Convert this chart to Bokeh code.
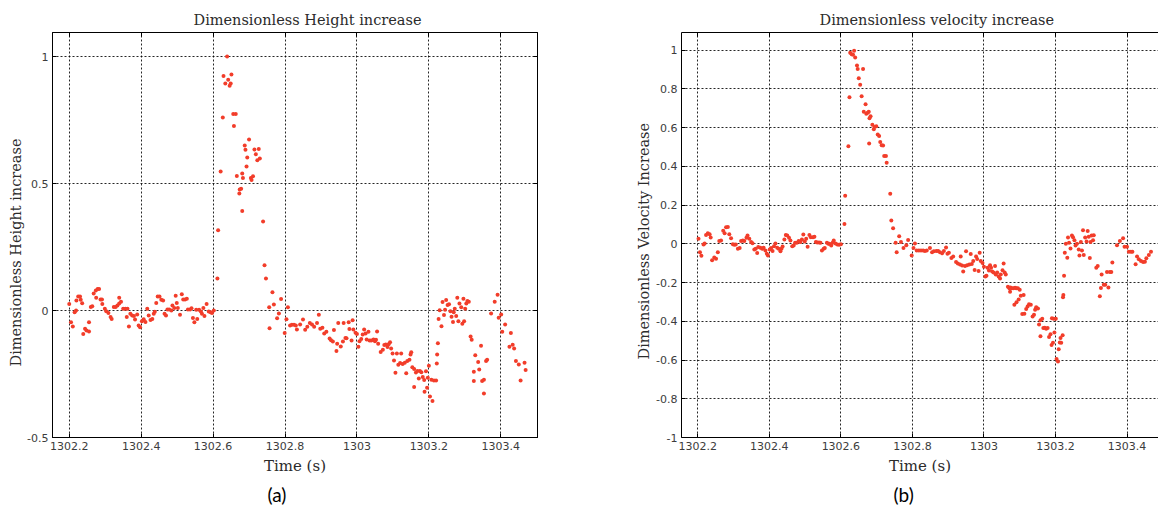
from bokeh.plotting import figure
from bokeh.layouts import row
from bokeh.models import FixedTicker, LinearAxis, Range1d, Title
from bokeh.embed import file_html
from bokeh.resources import INLINE

# ---------------- data : panel (a) dimensionless height ----------------
height_time_pre = [
    1302.200, 1302.205, 1302.210, 1302.215, 1302.219, 1302.220, 1302.225, 1302.230, 1302.232, 1302.236,
    1302.239, 1302.244, 1302.248, 1302.255, 1302.255, 1302.260, 1302.264, 1302.268, 1302.274, 1302.279,
    1302.283, 1302.275, 1302.287, 1302.291, 1302.292, 1302.299, 1302.303, 1302.309, 1302.315, 1302.318,
    1302.324, 1302.329, 1302.334, 1302.339, 1302.339, 1302.344, 1302.350, 1302.356, 1302.362, 1302.360,
    1302.366, 1302.370, 1302.375, 1302.380, 1302.383, 1302.389, 1302.393, 1302.397, 1302.402, 1302.407,
    1302.412, 1302.417, 1302.421, 1302.426, 1302.431, 1302.435, 1302.438, 1302.442, 1302.446, 1302.451,
    1302.456, 1302.461, 1302.465, 1302.469, 1302.473, 1302.478, 1302.484, 1302.487, 1302.492, 1302.496,
    1302.499, 1302.502, 1302.508, 1302.513, 1302.517, 1302.522, 1302.527, 1302.530, 1302.536, 1302.540,
    1302.544, 1302.548, 1302.553, 1302.556, 1302.561, 1302.566, 1302.569, 1302.573, 1302.576, 1302.582,
    1302.588, 1302.593, 1302.597, 1302.602, 1302.612,
]
height_value_pre = [
    0.026, -0.046, -0.063, -0.007, 0.000, 0.039, 0.055, 0.055, 0.042, 0.029,
    -0.093, -0.072, -0.079, -0.083, -0.046, 0.014, 0.017, 0.067, 0.079, 0.085,
    0.085, 0.050, 0.043, 0.043, 0.026, 0.007, -0.003, -0.010, -0.026, -0.033,
    0.014, 0.014, 0.020, 0.028, 0.050, 0.034, 0.007, 0.007, 0.007, -0.026,
    -0.063, -0.013, -0.020, -0.022, -0.035, -0.016, -0.059, -0.066, -0.042, -0.034,
    -0.045, 0.007, -0.020, -0.037, -0.033, -0.013, -0.005, 0.030, 0.055, 0.055,
    0.042, 0.039, -0.013, -0.020, 0.004, 0.004, 0.000, 0.020, 0.010, 0.058,
    0.030, 0.010, -0.017, 0.064, 0.043, 0.043, 0.046, 0.004, 0.004, 0.009,
    -0.030, -0.046, 0.003, -0.033, 0.003, -0.004, -0.013, 0.010, -0.022, 0.026,
    -0.004, -0.007, -0.010, 0.000, 0.126,
]
height_time_peak = [
    1302.614, 1302.639, 1302.629, 1302.651, 1302.642, 1302.634, 1302.649, 1302.646, 1302.627, 1302.656,
    1302.663, 1302.658, 1302.621, 1302.700, 1302.688, 1302.690, 1302.715, 1302.727, 1302.719, 1302.695,
    1302.723, 1302.730, 1302.693, 1302.666, 1302.681, 1302.683, 1302.705, 1302.711, 1302.707, 1302.674,
    1302.678, 1302.673, 1302.681, 1302.739,
]
height_value_peak = [
    0.316, 1.000, 0.923, 0.929, 0.908, 0.894, 0.894, 0.885, 0.760, 0.774,
    0.774, 0.726, 0.547, 0.673, 0.650, 0.633, 0.634, 0.636, 0.615, 0.602,
    0.592, 0.598, 0.567, 0.530, 0.539, 0.522, 0.522, 0.529, 0.514, 0.476,
    0.479, 0.461, 0.392, 0.350,
]
height_time_post = [
    1302.743, 1302.747, 1302.765, 1302.756, 1302.769, 1302.757, 1302.778, 1302.783, 1302.789, 1302.799,
    1302.804, 1302.808, 1302.814, 1302.819, 1302.825, 1302.830, 1302.833, 1302.842, 1302.850, 1302.856,
    1302.862, 1302.869, 1302.875, 1302.881, 1302.889, 1302.894, 1302.898, 1302.904, 1302.909, 1302.915,
    1302.924, 1302.928, 1302.933, 1302.936, 1302.945, 1302.943, 1302.948, 1302.955, 1302.961, 1302.963,
    1302.968, 1302.971, 1302.977, 1302.979, 1302.985, 1302.988, 1302.990, 1302.996, 1303.000, 1303.004,
    1303.007, 1303.012, 1303.016, 1303.020, 1303.024, 1303.027, 1303.032, 1303.035, 1303.040, 1303.046,
    1303.050, 1303.053, 1303.056, 1303.059, 1303.066, 1303.072, 1303.076, 1303.080, 1303.085, 1303.088,
    1303.092, 1303.095, 1303.099, 1303.103, 1303.107, 1303.111, 1303.115, 1303.120, 1303.123, 1303.127,
    1303.133, 1303.137, 1303.140, 1303.146, 1303.149, 1303.151, 1303.154, 1303.159, 1303.159, 1303.164,
    1303.168, 1303.172, 1303.175, 1303.179, 1303.183, 1303.187, 1303.188, 1303.192, 1303.195, 1303.197,
    1303.200, 1303.203, 1303.207, 1303.210, 1303.214, 1303.220, 1303.222, 1303.223, 1303.225, 1303.227,
    1303.230, 1303.235, 1303.238, 1303.242, 1303.245, 1303.248, 1303.252, 1303.256, 1303.260, 1303.263,
    1303.267, 1303.269, 1303.272, 1303.276, 1303.279, 1303.282, 1303.285, 1303.290, 1303.293, 1303.296,
    1303.298, 1303.301, 1303.304, 1303.307, 1303.311, 1303.316, 1303.319, 1303.325, 1303.329, 1303.325,
    1303.337, 1303.340, 1303.345, 1303.348, 1303.353, 1303.353, 1303.359, 1303.362, 1303.373, 1303.383,
    1303.391, 1303.394, 1303.401, 1303.404, 1303.412, 1303.424, 1303.428, 1303.433, 1303.437, 1303.442,
    1303.450, 1303.455, 1303.466, 1303.469,
]
height_value_post = [
    0.178, 0.126, 0.072, 0.013, 0.024, -0.070, -0.031, -0.012, 0.045, -0.089,
    -0.034, 0.013, -0.059, -0.056, -0.056, -0.059, -0.075, -0.055, -0.035, -0.076,
    -0.064, -0.049, -0.055, -0.064, -0.049, -0.017, -0.072, -0.068, -0.091, -0.084,
    -0.110, -0.117, -0.122, -0.077, -0.131, -0.159, -0.049, -0.142, -0.122, -0.049,
    -0.108, -0.109, -0.046, -0.073, -0.118, -0.038, -0.075, -0.088, -0.093, -0.143,
    -0.121, -0.112, -0.094, -0.075, -0.091, -0.114, -0.084, -0.118, -0.118, -0.114,
    -0.121, -0.115, -0.083, -0.131, -0.163, -0.155, -0.136, -0.134, -0.144, -0.133,
    -0.125, -0.150, -0.169, -0.197, -0.245, -0.169, -0.214, -0.207, -0.169, -0.211,
    -0.206, -0.247, -0.199, -0.194, -0.173, -0.164, -0.223, -0.230, -0.301, -0.244,
    -0.238, -0.268, -0.238, -0.243, -0.262, -0.274, -0.320, -0.239, -0.304, -0.265,
    -0.218, -0.339, -0.273, -0.356, -0.276, -0.276, -0.209, -0.173, -0.129, -0.033,
    0.001, -0.062, 0.033, -0.018, 0.003, 0.041, 0.022, 0.025, -0.003, -0.025,
    -0.045, -0.007, 0.007, -0.022, 0.050, -0.042, 0.028, 0.013, -0.052, 0.046,
    -0.042, 0.007, 0.028, 0.037, 0.034, -0.102, -0.115, -0.241, -0.176, -0.278,
    -0.203, -0.232, -0.139, -0.278, -0.327, -0.273, -0.199, -0.194, -0.012, 0.034,
    0.062, -0.029, -0.016, -0.084, -0.055, -0.143, -0.089, -0.135, -0.150, -0.199,
    -0.213, -0.276, -0.206, -0.234,
]

# ---------------- data : panel (b) dimensionless velocity ----------------
velocity_time_pre = [
    1302.202, 1302.206, 1302.210, 1302.216, 1302.219, 1302.223, 1302.228, 1302.233, 1302.236, 1302.240,
    1302.246, 1302.251, 1302.256, 1302.260, 1302.265, 1302.271, 1302.275, 1302.279, 1302.284, 1302.288,
    1302.293, 1302.298, 1302.302, 1302.306, 1302.312, 1302.317, 1302.321, 1302.326, 1302.330, 1302.336,
    1302.339, 1302.344, 1302.349, 1302.353, 1302.358, 1302.362, 1302.366, 1302.369, 1302.375, 1302.380,
    1302.384, 1302.389, 1302.393, 1302.396, 1302.401, 1302.405, 1302.409, 1302.413, 1302.417, 1302.422,
    1302.426, 1302.431, 1302.434, 1302.437, 1302.442, 1302.446, 1302.450, 1302.455, 1302.459, 1302.464,
    1302.468, 1302.472, 1302.477, 1302.482, 1302.487, 1302.491, 1302.495, 1302.499, 1302.503, 1302.507,
    1302.512, 1302.516, 1302.522, 1302.526, 1302.530, 1302.534, 1302.539, 1302.543, 1302.547, 1302.552,
    1302.555, 1302.561, 1302.565, 1302.568, 1302.573, 1302.577, 1302.580, 1302.585, 1302.590, 1302.595,
    1302.600, 1302.610,
]
velocity_value_pre = [
    0.026, -0.043, -0.061, -0.003, 0.002, 0.046, 0.054, 0.049, 0.032, -0.085,
    -0.071, -0.077, -0.043, 0.014, 0.017, 0.068, 0.054, 0.085, 0.087, 0.049,
    0.029, -0.002, -0.005, -0.003, -0.026, -0.022, 0.014, 0.017, 0.015, 0.031,
    0.043, 0.026, 0.009, 0.003, -0.029, -0.026, -0.048, -0.017, -0.020, -0.026,
    -0.020, -0.034, -0.051, -0.060, -0.029, -0.022, -0.037, -0.012, 0.002, -0.020,
    -0.026, -0.039, -0.026, -0.014, 0.022, 0.046, 0.043, 0.031, 0.017, -0.012,
    -0.009, 0.005, 0.005, 0.015, 0.009, 0.022, 0.048, 0.012, 0.026, -0.015,
    0.046, 0.034, 0.034, 0.037, 0.009, 0.007, 0.007, 0.005, -0.034, -0.026,
    -0.022, 0.005, 0.000, 0.000, -0.009, 0.005, 0.017, 0.002, -0.003, -0.005,
    -0.002, 0.102,
]
velocity_time_peak = [
    1302.612, 1302.621, 1302.624, 1302.626, 1302.630, 1302.634, 1302.637, 1302.640, 1302.645, 1302.647,
    1302.650, 1302.654, 1302.662, 1302.658, 1302.669, 1302.664, 1302.671, 1302.675, 1302.678, 1302.680,
    1302.683, 1302.688, 1302.692, 1302.694, 1302.679, 1302.699, 1302.703, 1302.707, 1302.710, 1302.714,
    1302.718, 1302.721, 1302.726, 1302.728, 1302.738, 1302.741, 1302.746,
]
velocity_value_peak = [
    0.248, 0.504, 0.757, 0.986, 0.979, 0.976, 0.997, 0.962, 0.920, 0.903,
    0.855, 0.821, 0.903, 0.762, 0.721, 0.682, 0.672, 0.677, 0.682, 0.648,
    0.658, 0.615, 0.591, 0.603, 0.518, 0.607, 0.564, 0.556, 0.526, 0.509,
    0.508, 0.453, 0.453, 0.419, 0.258, 0.120, 0.080,
]
velocity_time_post = [
    1302.753, 1302.756, 1302.763, 1302.768, 1302.775, 1302.783, 1302.788, 1302.798, 1302.803, 1302.807,
    1302.812, 1302.818, 1302.824, 1302.830, 1302.835, 1302.840, 1302.849, 1302.855, 1302.860, 1302.867,
    1302.872, 1302.877, 1302.883, 1302.888, 1302.894, 1302.898, 1302.902, 1302.909, 1302.914, 1302.922,
    1302.927, 1302.933, 1302.935, 1302.939, 1302.942, 1302.947, 1302.950, 1302.953, 1302.959, 1302.963,
    1302.966, 1302.970, 1302.974, 1302.978, 1302.981, 1302.985, 1302.988, 1302.991, 1302.996, 1303.000,
    1303.004, 1303.007, 1303.010, 1303.014, 1303.017, 1303.020, 1303.023, 1303.027, 1303.031, 1303.033,
    1303.037, 1303.041, 1303.045, 1303.047, 1303.052, 1303.055, 1303.058, 1303.061, 1303.067, 1303.071,
    1303.074, 1303.078, 1303.082, 1303.087, 1303.090, 1303.095, 1303.100, 1303.073, 1303.085, 1303.091,
    1303.097, 1303.103, 1303.111, 1303.107, 1303.113, 1303.118, 1303.122, 1303.126, 1303.131, 1303.136,
    1303.140, 1303.143, 1303.146, 1303.151, 1303.154, 1303.158, 1303.163, 1303.166, 1303.170, 1303.174,
    1303.158, 1303.178, 1303.182, 1303.186, 1303.189, 1303.193, 1303.190, 1303.195, 1303.201, 1303.197,
    1303.203, 1303.207, 1303.209, 1303.212, 1303.216, 1303.220, 1303.214, 1303.222, 1303.221, 1303.224,
    1303.226, 1303.229, 1303.233, 1303.235, 1303.238, 1303.242, 1303.246, 1303.249, 1303.253, 1303.256,
    1303.260, 1303.265, 1303.267, 1303.271, 1303.274, 1303.277, 1303.279, 1303.283, 1303.287, 1303.290,
    1303.293, 1303.296, 1303.298, 1303.301, 1303.305, 1303.307, 1303.314, 1303.318, 1303.324, 1303.327,
    1303.329, 1303.335, 1303.339, 1303.344, 1303.348, 1303.352, 1303.356, 1303.359, 1303.372, 1303.380,
    1303.389, 1303.393, 1303.400, 1303.405, 1303.411, 1303.415, 1303.424, 1303.428, 1303.433, 1303.439,
    1303.445, 1303.450, 1303.454, 1303.461, 1303.467,
]
velocity_value_post = [
    0.005, -0.043, 0.039, 0.010, -0.022, -0.007, 0.020, -0.060, -0.022, 0.002,
    -0.034, -0.034, -0.034, -0.034, -0.037, -0.034, -0.022, -0.043, -0.039, -0.037,
    -0.037, -0.043, -0.049, -0.037, -0.019, -0.051, -0.046, -0.073, -0.065, -0.094,
    -0.101, -0.107, -0.066, -0.112, -0.143, -0.114, -0.039, -0.111, -0.107, -0.053,
    -0.104, -0.089, -0.135, -0.066, -0.078, -0.141, -0.046, -0.089, -0.099, -0.118,
    -0.169, -0.165, -0.123, -0.138, -0.111, -0.124, -0.143, -0.148, -0.114, -0.159,
    -0.148, -0.169, -0.179, -0.159, -0.136, -0.102, -0.148, -0.159, -0.222, -0.230,
    -0.225, -0.230, -0.230, -0.227, -0.230, -0.230, -0.237, -0.247, -0.314, -0.302,
    -0.288, -0.268, -0.264, -0.363, -0.361, -0.336, -0.324, -0.312, -0.315, -0.375,
    -0.366, -0.341, -0.327, -0.334, -0.416, -0.395, -0.387, -0.435, -0.433, -0.438,
    -0.477, -0.435, -0.481, -0.467, -0.523, -0.511, -0.384, -0.387, -0.387, -0.458,
    -0.595, -0.608, -0.545, -0.510, -0.511, -0.472, -0.486, -0.264, -0.276, -0.165,
    -0.046, 0.000, -0.072, 0.032, 0.005, -0.024, 0.043, 0.034, 0.019, -0.009,
    0.000, -0.029, -0.060, 0.010, -0.034, 0.070, -0.058, 0.032, 0.012, 0.066,
    0.037, -0.073, 0.010, 0.043, 0.019, 0.044, -0.123, -0.114, -0.271, -0.228,
    -0.159, -0.211, -0.211, -0.145, -0.225, -0.145, -0.145, -0.097, -0.007, 0.014,
    0.029, -0.015, -0.015, -0.041, -0.041, -0.041, -0.106, -0.065, -0.080, -0.089,
    -0.094, -0.092, -0.075, -0.058, -0.041,
]

# ---------------- ticks and texts ----------------
time_ticks = [1302.2, 1302.4, 1302.6, 1302.8, 1303.0, 1303.2, 1303.4]
time_tick_labels = ["1302.2", "1302.4", "1302.6", "1302.8", "1303", "1303.2", "1303.4"]
height_ticks = [-0.5, 0.0, 0.5, 1.0]
height_tick_labels = ["-0.5", "0", "0.5", "1"]
velocity_ticks = [-1.0, -0.8, -0.6, -0.4, -0.2, 0.0, 0.2, 0.4, 0.6, 0.8, 1.0]
velocity_tick_labels = ["-1", "-0.8", "-0.6", "-0.4", "-0.2", "0", "0.2", "0.4", "0.6", "0.8", "1"]

title_a = "Dimensionless Height increase"
ylabel_a = "Dimensionless Height increase"
title_b = "Dimensionless velocity increase"
ylabel_b = "Dimensionless Velocity Increase"
xlabel = "Time (s)"
caption_a = "(a)"
caption_b = "(b)"

DOT = "#f23d2a"
TXT = "#2b2b2b"
TICK_TXT = "#3c3c3c"
SERIF = "DejaVu Serif"
SERIF_SIZE = "14.5px"


def style_axis(ax, ticks, labels, show):
    ax.ticker = FixedTicker(ticks=ticks)
    if show:
        ax.major_label_overrides = {t: l for t, l in zip(ticks, labels)}
        ax.major_label_standoff = 4
        ax.major_label_text_font_size = "11px"
    else:
        ax.major_label_overrides = {t: "" for t in ticks}
        ax.major_label_standoff = 0
        ax.major_label_text_font_size = "1px"
    ax.major_tick_in = 4
    ax.major_tick_out = 0
    ax.minor_tick_line_color = None
    ax.axis_line_color = "black"
    ax.axis_line_width = 1
    ax.major_tick_line_color = "black"
    ax.major_label_text_font = "DejaVu Sans"
    ax.major_label_text_color = TICK_TXT


def make_panel(width, height, xr, yr, borders, yticks, ylabels, right_axis, outline,
               title, title_offset, ylab, ylab_offset, ylab_standoff, caption, caption_offset):
    p = figure(width=width, height=height, output_backend="svg", toolbar_location=None,
               x_range=Range1d(*xr), y_range=Range1d(*yr),
               min_border_left=borders[0], min_border_right=borders[1],
               min_border_top=borders[2], min_border_bottom=borders[3],
               background_fill_color="white", border_fill_color="white")
    style_axis(p.xaxis[0], time_ticks, time_tick_labels, True)
    style_axis(p.yaxis[0], yticks, ylabels, True)
    p.xaxis[0].axis_label = xlabel
    p.xaxis[0].axis_label_text_font = SERIF
    p.xaxis[0].axis_label_text_font_size = "15px"
    p.xaxis[0].axis_label_text_font_style = "normal"
    p.xaxis[0].axis_label_text_color = TXT
    p.xaxis[0].axis_label_standoff = 4
    top = LinearAxis()
    style_axis(top, time_ticks, time_tick_labels, False)
    p.add_layout(top, "above")
    if right_axis:
        rt = LinearAxis()
        style_axis(rt, yticks, ylabels, False)
        p.add_layout(rt, "right")
    for g in (p.xgrid[0], p.ygrid[0]):
        g.grid_line_color = "black"
        g.grid_line_dash = "2 2"
        g.grid_line_width = 1
        g.grid_line_alpha = 0.85
    p.xgrid[0].ticker = FixedTicker(ticks=time_ticks)
    p.ygrid[0].ticker = FixedTicker(ticks=yticks)
    p.outline_line_color = "black" if outline else None

    p.title.text = title
    p.title.align = "left"
    p.title.offset = title_offset
    p.title.text_font = SERIF
    p.title.text_font_size = SERIF_SIZE
    p.title.text_font_style = "normal"
    p.title.text_color = TXT
    p.title.standoff = 10

    p.add_layout(Title(text=ylab, align="left", offset=ylab_offset, text_font=SERIF,
                       text_font_size=SERIF_SIZE, text_font_style="normal", text_color=TXT,
                       standoff=ylab_standoff), "left")
    p.add_layout(Title(text=caption, align="left", offset=caption_offset, text_font="Lato",
                       text_font_size="19px", text_font_style="normal", text_color="black",
                       standoff=7), "below")
    return p


# ---------------- panel (a) ----------------
pa = make_panel(600, 509, (1302.1535, 1303.502), (-0.5, 1.0945), (52, 63, 32, 72),
                height_ticks, height_tick_labels, True, True,
                title_a, 141, ylabel_a, 71, 1, caption_a, 215)
for tt, vv in ((height_time_pre, height_value_pre), (height_time_peak, height_value_peak),
               (height_time_post, height_value_post)):
    pa.scatter(tt, vv, size=4, color=DOT, line_color=None)

# ---------------- panel (b) ----------------
pb = make_panel(558, 509, (1302.1544, 1303.488), (-1.0, 1.091), (81, 0, 32, 69),
                velocity_ticks, velocity_tick_labels, False, False,
                title_b, 138, ylabel_b, 78, 4, caption_b, 212)
for tt, vv in ((velocity_time_pre, velocity_value_pre), (velocity_time_peak, velocity_value_peak),
               (velocity_time_post, velocity_value_post)):
    pb.scatter(tt, vv, size=4, color=DOT, line_color=None)

layout = row(pa, pb)
open("out.html", "w").write(file_html(layout, INLINE))
